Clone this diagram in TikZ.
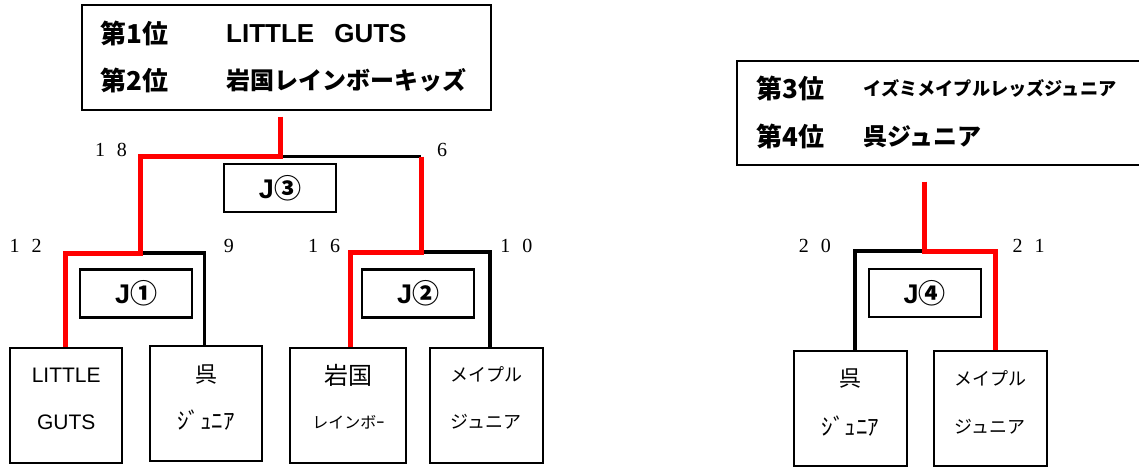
\documentclass[tikz,border=0pt]{standalone}
\usepackage{fontspec}
\setmainfont{Liberation Serif}
\newfontfamily\jp{Noto Sans CJK JP}
\newfontfamily\arial{Liberation Sans}
\usetikzlibrary{calc}
\tikzset{
  rankbox/.style={draw, line width=2.2pt, inner sep=0pt, rectangle},
  jbox/.style={draw, line width=2.2pt, inner sep=0pt, minimum width=112pt, minimum height=48pt},
  teambox/.style={draw, line width=2.2pt, inner sep=0pt, minimum height=115pt},
  score/.style={inner sep=0pt, font=\fontsize{20}{22}\selectfont},
  rankL/.style={anchor=west, inner sep=0pt, font={\jp\bfseries\fontsize{26}{28}\selectfont}},
  teamL/.style={anchor=west, inner sep=0pt, font={\jp\bfseries\fontsize{24}{28}\selectfont}},
  lbl/.style={inner sep=0pt},
  win/.style={draw=red, line width=5pt},
  lose/.style={draw=black, line width=3.3pt},
}
\newcommand{\dg}[1]{\makebox[22pt]{#1}}
\newcommand{\jlab}[1]{{\arial\bfseries\fontsize{27}{30}\selectfont J}{\jp\bfseries\fontsize{27}{30}\selectfont #1}}
\begin{document}
\begin{tikzpicture}[x=1pt,y=-1pt]
\useasboundingbox (0,0) rectangle (1139,467);

% ---- top ranking box (1st / 2nd)
\node[rankbox, minimum width=409pt, minimum height=105pt] (rank12) at (286.2,57.5) {};
\node[rankL] (r1) at (100.7,33.3) {第1位};
\node[teamL, font={\arial\bfseries\fontsize{26}{28}\selectfont}] (t1) at (226,33.3) {LITTLE\hspace{20pt}GUTS};
\node[rankL] (r2) at (100.7,80) {第2位};
\node[teamL] (t2) at (226,80) {岩国レインボーキッズ};

% ---- right ranking box (3rd / 4th)
\node[rankbox, minimum width=413.3pt, minimum height=104.3pt] (rank34) at (943.35,112.85) {};
\node[rankL] (r3) at (756,88.3) {第3位};
\node[teamL, font={\jp\bfseries\fontsize{18.2}{22}\selectfont}] (t3) at (863.3,88.3) {イズミメイプルレッズジュニア};
\node[rankL] (r4) at (756,136.7) {第4位};
\node[teamL] (t4) at (863.3,136.7) {呉ジュニア};

% ---- match boxes
\node[jbox] (J3) at (280,188.3) {\jlab{③}};
\node[jbox] (J1) at (136.2,293.5) {\jlab{①}};
\node[jbox] (J2) at (418.2,293.5) {\jlab{②}};
\node[jbox] (J4) at (924.7,293.3) {\jlab{④}};

% ---- team boxes
\node[teambox, minimum width=112.3pt] (lg) at (66.2,405.2) {};
\node[teambox, minimum width=112.3pt] (kj) at (206.2,403.7) {};
\node[teambox, minimum width=116pt] (iw) at (348.3,405.2) {};
\node[teambox, minimum width=112.7pt] (mp) at (486.3,405.2) {};
\node[teambox, minimum width=112.7pt] (kj2) at (850.3,408.5) {};
\node[teambox, minimum width=112.7pt] (mp2) at (990.3,408.5) {};

\node[lbl, font={\arial\fontsize{21}{24}\selectfont}] (lg1) at ($(lg.north)+(0,28.5)$) {LITTLE};
\node[lbl, font={\arial\fontsize{21}{24}\selectfont}] (lg2) at ($(lg.north)+(0,76)$) {GUTS};
\node[lbl, font={\jp\fontsize{22}{26}\selectfont}] (kj1) at ($(kj.north)+(0,29)$) {呉};
\node[lbl, font={\jp\fontsize{23}{26}\selectfont}] (kjb) at ($(kj.north)+(0,75)$) {ｼﾞｭﾆｱ};
\node[lbl, font={\jp\fontsize{24}{28}\selectfont}] (iw1) at ($(iw.north)+(0,29)$) {岩国};
\node[lbl, font={\jp\fontsize{16}{20}\selectfont}] (iw2) at ($(iw.north)+(0,75.5)$) {レインボｰ};
\node[lbl, font={\jp\fontsize{18}{22}\selectfont}] (mp1) at ($(mp.north)+(0,28)$) {メイプル};
\node[lbl, font={\jp\fontsize{18}{22}\selectfont}] (mpb) at ($(mp.north)+(0,75)$) {ジュニア};
\node[lbl, font={\jp\fontsize{22}{26}\selectfont}] (kj21) at ($(kj2.north)+(0,29)$) {呉};
\node[lbl, font={\jp\fontsize{23}{26}\selectfont}] (kj2b) at ($(kj2.north)+(0,76.5)$) {ｼﾞｭﾆｱ};
\node[lbl, font={\jp\fontsize{18}{22}\selectfont}] (mp21) at ($(mp2.north)+(0,28)$) {メイプル};
\node[lbl, font={\jp\fontsize{18}{22}\selectfont}] (mp2b) at ($(mp2.north)+(0,76.5)$) {ジュニア};

% ---- scores
\node[score] (s18) at (111,150.3) {\dg{1}\dg{8}};
\node[score] (s6) at (442,150.3) {\dg{6}};
\node[score] (s12) at (25.7,246.3) {\dg{1}\dg{2}};
\node[score] (s9) at (228.8,246.3) {\dg{9}};
\node[score] (s16) at (324.2,246.3) {\dg{1}\dg{6}};
\node[score] (s10) at (516.4,246.3) {\dg{1}\dg{0}};
\node[score] (s20) at (814.8,246.3) {\dg{2}\dg{0}};
\node[score] (s21) at (1028.6,246.3) {\dg{2}\dg{1}};

% ---- bracket junctions
\coordinate (top12) at (280,116.7);
\coordinate (j3) at (280,156.5);
\coordinate (j1) at (140.7,253);
\coordinate (j2) at (421,252);
\coordinate (top34) at (924.3,181.7);
\coordinate (j4) at (924.3,251);

% ---- losing paths (black)
\draw[lose] (j3) -- (j2 |- j3);
\draw[lose] (j1) -- ([xshift=-2pt]kj.north |- j1) -- ([xshift=-2pt]kj.north);
\draw[lose] (j2) -- ([xshift=3.7pt]mp.north |- j2) -- ([xshift=3.7pt]mp.north);
\draw[lose] (j4) -- ([xshift=4.7pt]kj2.north |- j4) -- ([xshift=4.7pt]kj2.north);

% ---- winning paths (red)
\draw[win] (top12) -- (j3) -- (j1 |- j3) -- (j1) -- ([xshift=-0.5pt]lg.north |- j1) -- ([xshift=-0.5pt]lg.north);
\draw[win] (j2 |- j3) -- (j2) -- ([xshift=1.7pt]iw.north |- j2) -- ([xshift=1.7pt]iw.north);
\draw[win] (top34) -- (j4) -- ([xshift=4.7pt]mp2.north |- j4) -- ([xshift=4.7pt]mp2.north);
\end{tikzpicture}
\end{document}
